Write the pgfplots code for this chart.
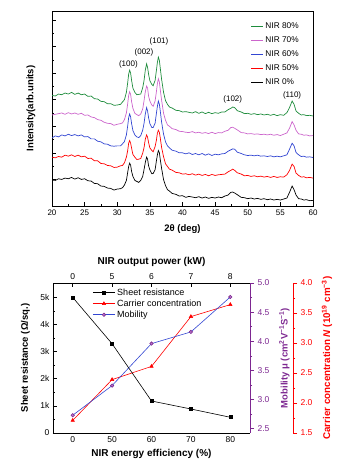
\documentclass[border=0pt]{standalone}
\usepackage{fontspec}
\setmainfont{Liberation Sans}
\usepackage{pgfplots}
\usepackage{pgfplotstable}
\pgfplotsset{compat=1.18}
\definecolor{cgreen}{RGB}{30,140,60}
\definecolor{cpink}{RGB}{204,102,204}
\definecolor{cblue}{RGB}{50,70,210}
\definecolor{cpurple}{RGB}{125,40,145}
\definecolor{cpurplelight}{RGB}{185,120,200}
\pgfplotsset{/pgf/number format/assume math mode=true}

\pgfplotstableread{
x k r b m g
20.0 78 147 205 274 333
20.5 77 145 211 276 331
21.0 82 149 208 278 337
21.5 80 147 214 280 335
22.0 84 153 211 276 340
22.5 82 150 216 281 337
23.0 86 154 212 277 342
23.5 81 149 215 280 336
24.0 85 153 211 276 340
24.5 80 148 214 279 335
25.0 82 150 208 273 337
25.5 76 143 209 274 330
26.0 75 144 202 268 331
26.5 68 136 202 266 323
27.0 67 136 195 260 322
27.5 60 128 193 258 315
28.0 59 127 187 252 314
28.5 54 122 186 249 308
29.0 53 121 181 248 308
29.5 48 116 180 243 303
30.0 51 117 181 246 304
30.5 52 121 181 248 306
30.8 55 122 187 250 313
31.1 63 130 194 260 320
31.4 77 147 214 280 342
31.6 101 167 241 308 371
31.75 119 189 266 333 397
31.9 129 197 277 344 409
32.05 123 189 268 336 400
32.2 104 174 248 314 378
32.4 89 155 227 294 355
32.7 77 147 214 279 342
33.0 74 140 208 275 335
33.3 71 141 206 272 336
33.6 77 143 212 277 337
33.9 89 159 228 292 356
34.1 109 175 248 316 377
34.3 131 201 277 344 409
34.5 147 214 296 361 428
34.65 141 207 286 355 417
34.8 121 191 266 331 397
35.0 109 175 248 316 377
35.3 97 167 236 304 366
35.5 98 163 236 300 362
35.8 109 179 249 316 378
36.0 136 198 279 344 408
36.15 154 219 300 368 432
36.3 167 228 316 383 448
36.45 161 222 307 374 439
36.6 139 204 285 349 414
36.8 113 176 252 318 381
37.1 79 148 216 279 342
37.4 61 127 193 258 317
37.7 49 119 181 244 306
38.0 45 111 175 240 298
38.4 38 108 168 233 295
39.0 35 101 165 230 288
39.5 30 100 160 225 287
40.0 31 96 160 224 283
40.5 26 97 157 222 284
41.0 29 94 160 221 282
41.5 27 97 155 224 280
42.0 25 93 158 220 284
42.5 28 96 154 222 279
43.0 24 92 158 219 283
43.5 27 95 153 221 278
44.0 23 91 157 218 282
44.5 26 95 152 222 278
45.0 24 92 156 218 281
45.5 27 94 154 221 279
46.0 25 95 157 220 283
46.5 30 96 158 225 283
47.0 33 103 165 228 290
47.4 41 107 169 236 294
47.7 42 111 172 237 298
48.0 39 107 171 234 296
48.4 34 100 162 229 287
49.0 26 96 158 221 283
49.5 25 91 154 220 278
50.0 22 92 152 217 279
50.5 24 89 153 218 276
51.0 21 91 151 216 278
51.5 23 88 153 217 275
52.0 20 90 150 215 277
52.5 22 87 151 216 274
53.0 19 89 149 214 276
53.5 21 86 151 216 273
54.0 18 89 148 213 276
54.5 20 86 150 215 272
55.0 18 88 148 212 275
55.5 21 87 151 216 273
56.0 24 94 154 220 281
56.4 41 107 171 234 296
56.8 60 126 189 254 316
57.1 49 119 181 244 306
57.4 33 99 161 228 286
57.8 22 92 154 217 279
58.2 21 87 149 216 274
58.6 18 88 150 213 275
59.0 19 85 147 214 272
59.5 16 86 148 211 273
60.0 17 84 146 212 271
}\xrd

\pgfplotstableread{
i eff res car mob
0 0  5000 1.71 2.73
1 50 3290 2.39 3.24
2 60 1180 2.61 3.96
3 70 885  3.44 4.16
4 80 580  3.64 4.76
}\elec

\begin{document}
\begin{tikzpicture}
\useasboundingbox (0,0) rectangle (350pt,474pt);
% ---------------- XRD ----------------
\begin{axis}[
  at={(52pt,268pt)}, anchor=south west, scale only axis,
  width=261pt, height=195pt,
  xmin=20, xmax=60, ymin=0, ymax=587,
  xtick={20,25,...,60}, minor x tick num=1,
  ytick={80,160,...,560}, minor y tick num=1, yticklabels={},
  tick align=inside, xtick pos=bottom, ytick pos=left,
  major tick length=4pt, minor tick length=2pt,
  tick style={black, line width=0.5pt},
  ticklabel style={font=\fontsize{8}{9}\selectfont},
  xlabel={\bfseries 2θ (deg)},
  xlabel style={font=\fontsize{9.5}{10}\selectfont, at={(axis description cs:0.5,-0.12)}, anchor=center},
  ylabel={\bfseries Intensity(arb.units)},
  ylabel style={font=\fontsize{9.5}{10}\selectfont, at={(axis description cs:-0.05,0.5)}, anchor=south},
  legend style={at={(rel axis cs:0.965,0.96)}, anchor=north east, draw=none, fill=none,
    font=\fontsize{8.3}{9.5}\selectfont, row sep=2.6pt},
  legend cell align=left,
  legend image code/.code={\draw[#1, line width=0.8pt] (0pt,0pt) -- (12pt,0pt);},
  every axis plot/.append style={line width=0.7pt},
]
\addplot[cgreen] table[x=x,y=g] {\xrd}; \addlegendentry{NIR 80\%}
\addplot[cpink] table[x=x,y=m] {\xrd}; \addlegendentry{NIR 70\%}
\addplot[cblue] table[x=x,y=b] {\xrd}; \addlegendentry{NIR 60\%}
\addplot[red] table[x=x,y=r] {\xrd}; \addlegendentry{NIR 50\%}
\addplot[black] table[x=x,y=k] {\xrd}; \addlegendentry{NIR 0\%}
\node[font=\fontsize{8}{9}\selectfont] at (axis cs:31.7,427) {(100)};
\node[font=\fontsize{8}{9}\selectfont] at (axis cs:34.1,462) {(002)};
\node[font=\fontsize{8}{9}\selectfont] at (axis cs:36.4,495) {(101)};
\node[font=\fontsize{8}{9}\selectfont] at (axis cs:47.7,322) {(102)};
\node[font=\fontsize{8}{9}\selectfont] at (axis cs:56.8,334) {(110)};
\end{axis}

% ---------------- Electrical: carrier (red, offset axis) ----------------
\begin{axis}[
  at={(53pt,41pt)}, anchor=south west, scale only axis,
  width=240pt, height=150pt,
  xmin=-0.5, xmax=5.591, ymin=1.5, ymax=4.0,
  axis x line=none, axis y line*=right,
  axis line style={red,-, line width=0.6pt},
  ytick={1.5,2,...,4}, yticklabels={1.5,2.0,2.5,3.0,3.5,4.0},
  minor y tick num=1, tick align=outside,
  major tick length=4pt, minor tick length=2pt,
  y tick style={red, line width=0.5pt},
  yticklabel style={red, font=\fontsize{8.5}{9}\selectfont},
  ylabel={\bfseries Carrier concentration \textit{N} (10\textsuperscript{19} cm\textsuperscript{−3})},
  ylabel style={red, font=\fontsize{9.8}{10}\selectfont, at={(axis description cs:1.105,0.5)}, anchor=north},
]
\addplot[red, line width=0.6pt, mark=triangle*, mark size=1.9pt] table[x=i,y=car] {\elec};
\end{axis}

% ---------------- Electrical: mobility (purple right axis) ----------------
\begin{axis}[
  at={(53pt,41pt)}, anchor=south west, scale only axis,
  width=197pt, height=150pt,
  xmin=-0.5, xmax=4.5, ymin=2.426, ymax=5.0,
  axis x line=none, axis y line*=right,
  axis line style={cpurple,-, line width=0.6pt},
  ytick={2.5,3,...,5}, yticklabels={2.5,3.0,3.5,4.0,4.5,5.0},
  minor y tick num=1, tick align=outside,
  major tick length=4pt, minor tick length=2pt,
  y tick style={cpurple, line width=0.5pt},
  yticklabel style={cpurple, font=\fontsize{8.5}{9}\selectfont},
  ylabel={\bfseries Mobility μ (cm\textsuperscript{2}V\textsuperscript{−1}S\textsuperscript{−1})},
  ylabel style={cpurple, font=\fontsize{9.5}{10}\selectfont, at={(axis description cs:1.13,0.5)}, anchor=north},
]
\addplot[cblue, line width=0.6pt, mark=*, mark size=1.7pt, mark options={draw=cpurple, fill=cpurplelight}] table[x=i,y=mob] {\elec};
\end{axis}

% ---------------- Electrical: top axis (output power) ----------------
\begin{axis}[
  at={(53pt,41pt)}, anchor=south west, scale only axis,
  width=197pt, height=150pt,
  xmin=-0.5, xmax=4.5, ymin=0, ymax=1,
  axis y line=none, axis x line*=top,
  axis line style={black,-, line width=0.6pt},
  xtick={0,...,4}, xticklabels={0,5,6,7,8},
  tick align=inside, major tick length=4pt,
  x tick style={black, line width=0.5pt},
  xticklabel style={font=\fontsize{8.5}{9}\selectfont},
  xlabel={\bfseries NIR output power (kW)},
  xlabel style={font=\fontsize{10}{11}\selectfont},
]
\end{axis}

% ---------------- Electrical: main (sheet resistance) ----------------
\begin{axis}[
  at={(53pt,41pt)}, anchor=south west, scale only axis,
  width=197pt, height=150pt,
  xmin=-0.5, xmax=4.5, ymin=0, ymax=5530,
  axis x line*=bottom, axis y line*=left,
  axis line style={black,-, line width=0.6pt},
  xtick={0,...,4}, xticklabels={0,50,60,70,80},
  x tick style={draw=none},
  ytick={0,1000,...,5000}, yticklabels={0,1k,2k,3k,4k,5k},
  minor y tick num=1, tick align=inside,
  major tick length=4pt, minor tick length=2pt,
  y tick style={black, line width=0.5pt},
  scaled y ticks=false,
  ticklabel style={font=\fontsize{8.5}{9}\selectfont},
  xlabel={\bfseries NIR energy efficiency (\%)},
  xlabel style={font=\fontsize{10}{11}\selectfont},
  ylabel={\bfseries Sheet resistance (Ω/sq.)},
  ylabel style={font=\fontsize{9.5}{11}\selectfont, at={(axis description cs:-0.1,0.5)}, anchor=south},
  legend style={at={(rel axis cs:0.185,0.99)}, anchor=north west, draw=none, fill=none,
    font=\fontsize{9}{10}\selectfont, row sep=-1pt},
  legend cell align=left,
  legend image code/.code={\draw[mark repeat=2, mark phase=2, #1] plot coordinates {(0pt,0pt) (11pt,0pt) (22pt,0pt)};},
]
\addplot[black, line width=0.6pt, mark=square*, mark size=1.5pt] table[x=i,y=res] {\elec};
\addlegendentry{Sheet resistance}
\addlegendimage{red, line width=0.6pt, mark=triangle*, mark size=1.9pt}
\addlegendentry{Carrier concentration}
\addlegendimage{cblue, line width=0.6pt, mark=*, mark size=1.7pt, mark options={draw=cpurple, fill=cpurplelight}}
\addlegendentry{Mobility}
\end{axis}
\end{tikzpicture}
\end{document}
